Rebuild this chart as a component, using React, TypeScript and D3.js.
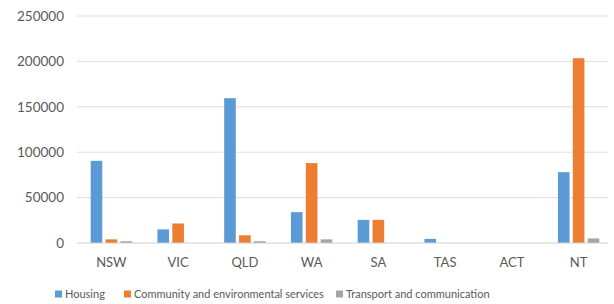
import React from "react";
import * as d3 from "d3";

const states = ["NSW", "VIC", "QLD", "WA", "SA", "TAS", "ACT", "NT"];
const housing = [90500, 15000, 159500, 34000, 25500, 4500, 0, 78000];
const community = [4000, 21500, 8500, 88000, 25500, 0, 0, 203500];
const transport = [2000, 0, 2000, 4000, 0, 0, 0, 5000];
const yTicks = [0, 50000, 100000, 150000, 200000, 250000];

const seriesNames = ["Housing", "Community and environmental services", "Transport and communication"];
const seriesColors = ["#5b9bd5", "#ed7d31", "#a5a5a5"];

const W = 614;
const H = 304;
const FONT = "Lato, 'Open Sans', sans-serif";

export default function App() {
  const series = [housing, community, transport];
  const x0 = d3.scaleBand<string>().domain(states).range([78, 612]).paddingInner(0.38).paddingOuter(0.19);
  const x1 = d3.scaleBand<number>().domain([0, 1, 2]).range([0, x0.bandwidth()]).paddingInner(0.22);
  const y = d3.scaleLinear().domain([0, 250000]).range([243, 16]);

  // legend item left edges (square positions)
  const legendX = [55, 124, 336];

  return (
    <svg width={W} height={H} style={{ position: "absolute", left: 0, top: 0, background: "#fff" }} fontFamily={FONT}>
      {yTicks.map((t) => (
        <g key={t}>
          {t > 0 && <line x1={77} x2={608} y1={y(t)} y2={y(t)} stroke="#e2dcdc" strokeWidth={1} />}
          <text x={64} y={y(t)} dy="0.35em" textAnchor="end" fontSize={13.5} fill="#595959">
            {t}
          </text>
        </g>
      ))}
      {states.map((s, i) => (
        <g key={s} transform={`translate(${x0(s)},0)`}>
          {series.map((vals, k) =>
            vals[i] > 0 ? (
              <rect
                key={k}
                x={x1(k)}
                y={y(vals[i])}
                width={x1.bandwidth()}
                height={y(0) - y(vals[i])}
                fill={seriesColors[k]}
              />
            ) : null
          )}
        </g>
      ))}
      <line x1={77} x2={608} y1={y(0)} y2={y(0)} stroke="#d0cccc" strokeWidth={1} />
      {states.map((s) => (
        <text key={s} x={(x0(s) ?? 0) + x0.bandwidth() / 2} y={267} textAnchor="middle" fontSize={13} fill="#595959">
          {s}
        </text>
      ))}
      {seriesNames.map((n, k) => (
        <g key={n} transform={`translate(${legendX[k]},294)`}>
          <rect x={0} y={-3.5} width={7} height={7} fill={seriesColors[k]} />
          <text x={10} y={0} dy="0.35em" fontSize={11} fill="#595959">
            {n}
          </text>
        </g>
      ))}
    </svg>
  );
}
